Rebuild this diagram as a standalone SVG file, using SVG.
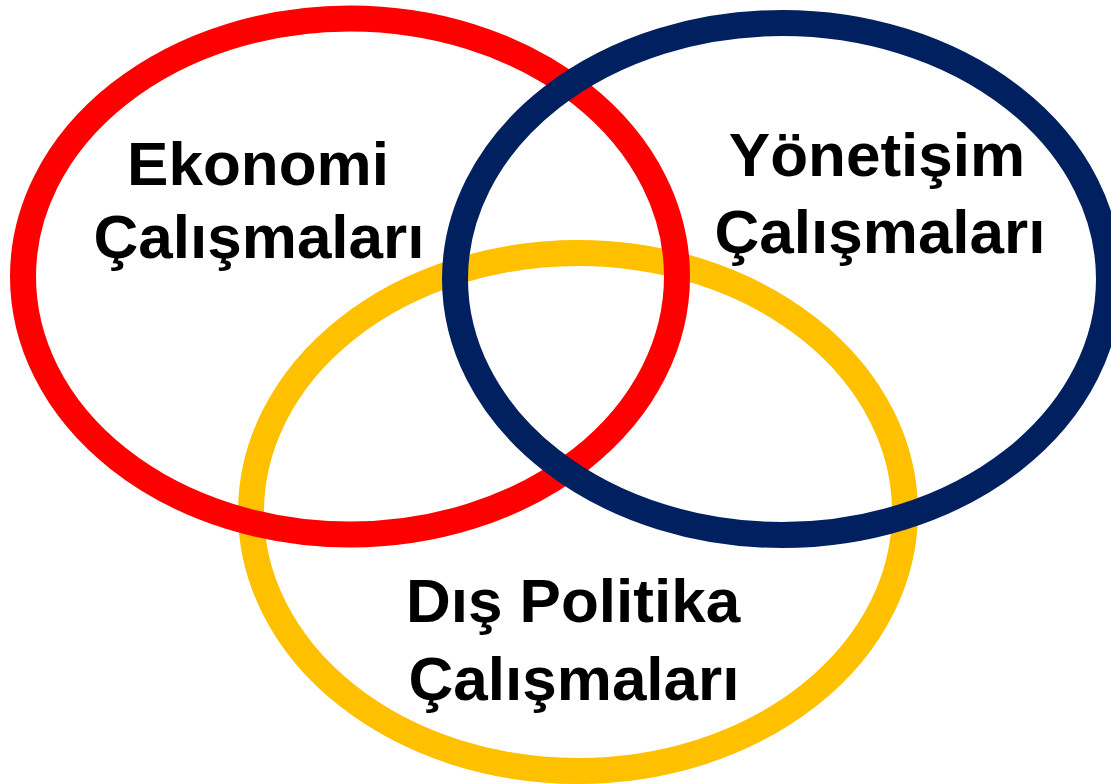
<svg xmlns="http://www.w3.org/2000/svg" width="1111" height="784" viewBox="0 0 1111 784">
<style>
.ring{fill:none;stroke-width:26}
.lbl{font-family:"Liberation Sans",Arial,sans-serif;font-weight:bold;font-size:62px;fill:#000;text-anchor:middle}
</style>
<rect width="1111" height="784" fill="#fff"/>
<g id="rings">
<ellipse id="dis-ring" class="ring" cx="578" cy="512" rx="327" ry="259" stroke="#FFC000"/>
<ellipse id="ekonomi-ring" class="ring" cx="350" cy="276.5" rx="327" ry="258" stroke="#FF0000"/>
<ellipse id="yonetisim-ring" class="ring" cx="782" cy="279" rx="327" ry="256" stroke="#002060"/>
</g>
<g id="ekonomi">
<text class="lbl" x="258" y="185">Ekonomi</text>
<text class="lbl" x="259" y="258">Çalışmaları</text>
</g>
<g id="yonetisim">
<text class="lbl" x="877" y="176">Yönetişim</text>
<text class="lbl" x="880" y="253">Çalışmaları</text>
</g>
<g id="dis-politika">
<text class="lbl" x="573" y="622">Dış Politika</text>
<text class="lbl" x="574" y="700">Çalışmaları</text>
</g>
</svg>
